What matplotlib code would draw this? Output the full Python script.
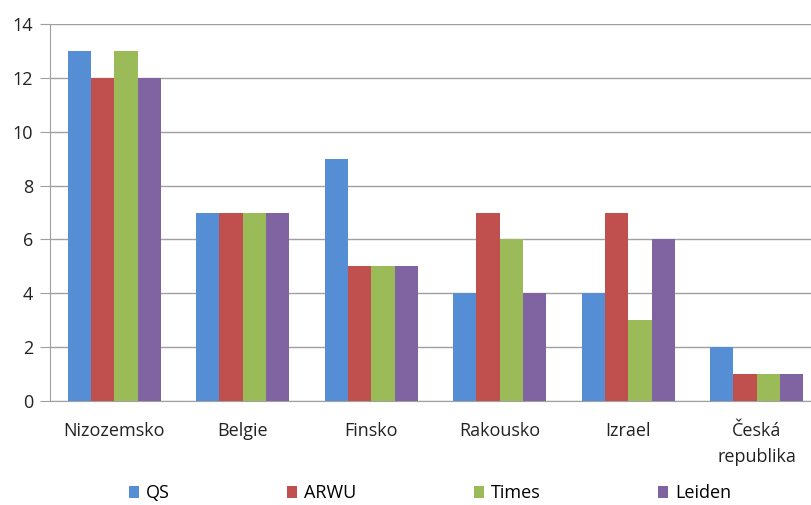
import matplotlib.pyplot as plt
import numpy as np

# data
categories = ['Nizozemsko', 'Belgie', 'Finsko', 'Rakousko', 'Izrael', 'Česká\nrepublika']
series_names = ['QS', 'ARWU', 'Times', 'Leiden']
qs = [13, 7, 9, 4, 4, 2]
arwu = [12, 7, 5, 7, 7, 1]
times = [13, 7, 5, 6, 3, 1]
leiden = [12, 7, 5, 4, 6, 1]
colors = ['#558ED5', '#C0504D', '#9BBB59', '#8064A2']

plt.rcParams['font.family'] = ['Open Sans', 'DejaVu Sans']

fig = plt.figure(figsize=(8.11, 5.05), dpi=100)
ax = fig.add_axes([50 / 811, 1 - 401 / 505, 761 / 811, (401 - 24) / 505])

x = np.arange(len(categories))
w = 0.181
for i, (vals, name) in enumerate(zip([qs, arwu, times, leiden], series_names)):
    ax.bar(x + (i - 1.5) * w, vals, width=w, color=colors[i], label=name, zorder=3)

ax.set_ylim(0, 14)
ax.set_yticks(range(0, 15, 2))
ax.set_xlim(-0.5, -0.5 + 761 / 128.5)
ax.set_xticks(x)
ax.set_xticklabels(categories, fontsize=13, color='#222222', linespacing=1.6)
ax.tick_params(axis='y', labelsize=13, colors='#222222', length=7, color='#A0A0A0', pad=5)
ax.tick_params(axis='x', length=0, pad=15)
ax.grid(axis='y', color='#A0A0A0', linewidth=1, zorder=0)

for s in ['top', 'right']:
    ax.spines[s].set_visible(False)
ax.spines['left'].set_color('#A0A0A0')
ax.spines['bottom'].set_color('#A0A0A0')

leg = fig.legend(loc='center', bbox_to_anchor=(430 / 811, 1 - 493 / 505), ncol=4, frameon=False,
                 fontsize=13, handlelength=0.55, handleheight=0.65, handletextpad=0.4,
                 columnspacing=6.5)

fig.savefig('out.png', dpi=100)
